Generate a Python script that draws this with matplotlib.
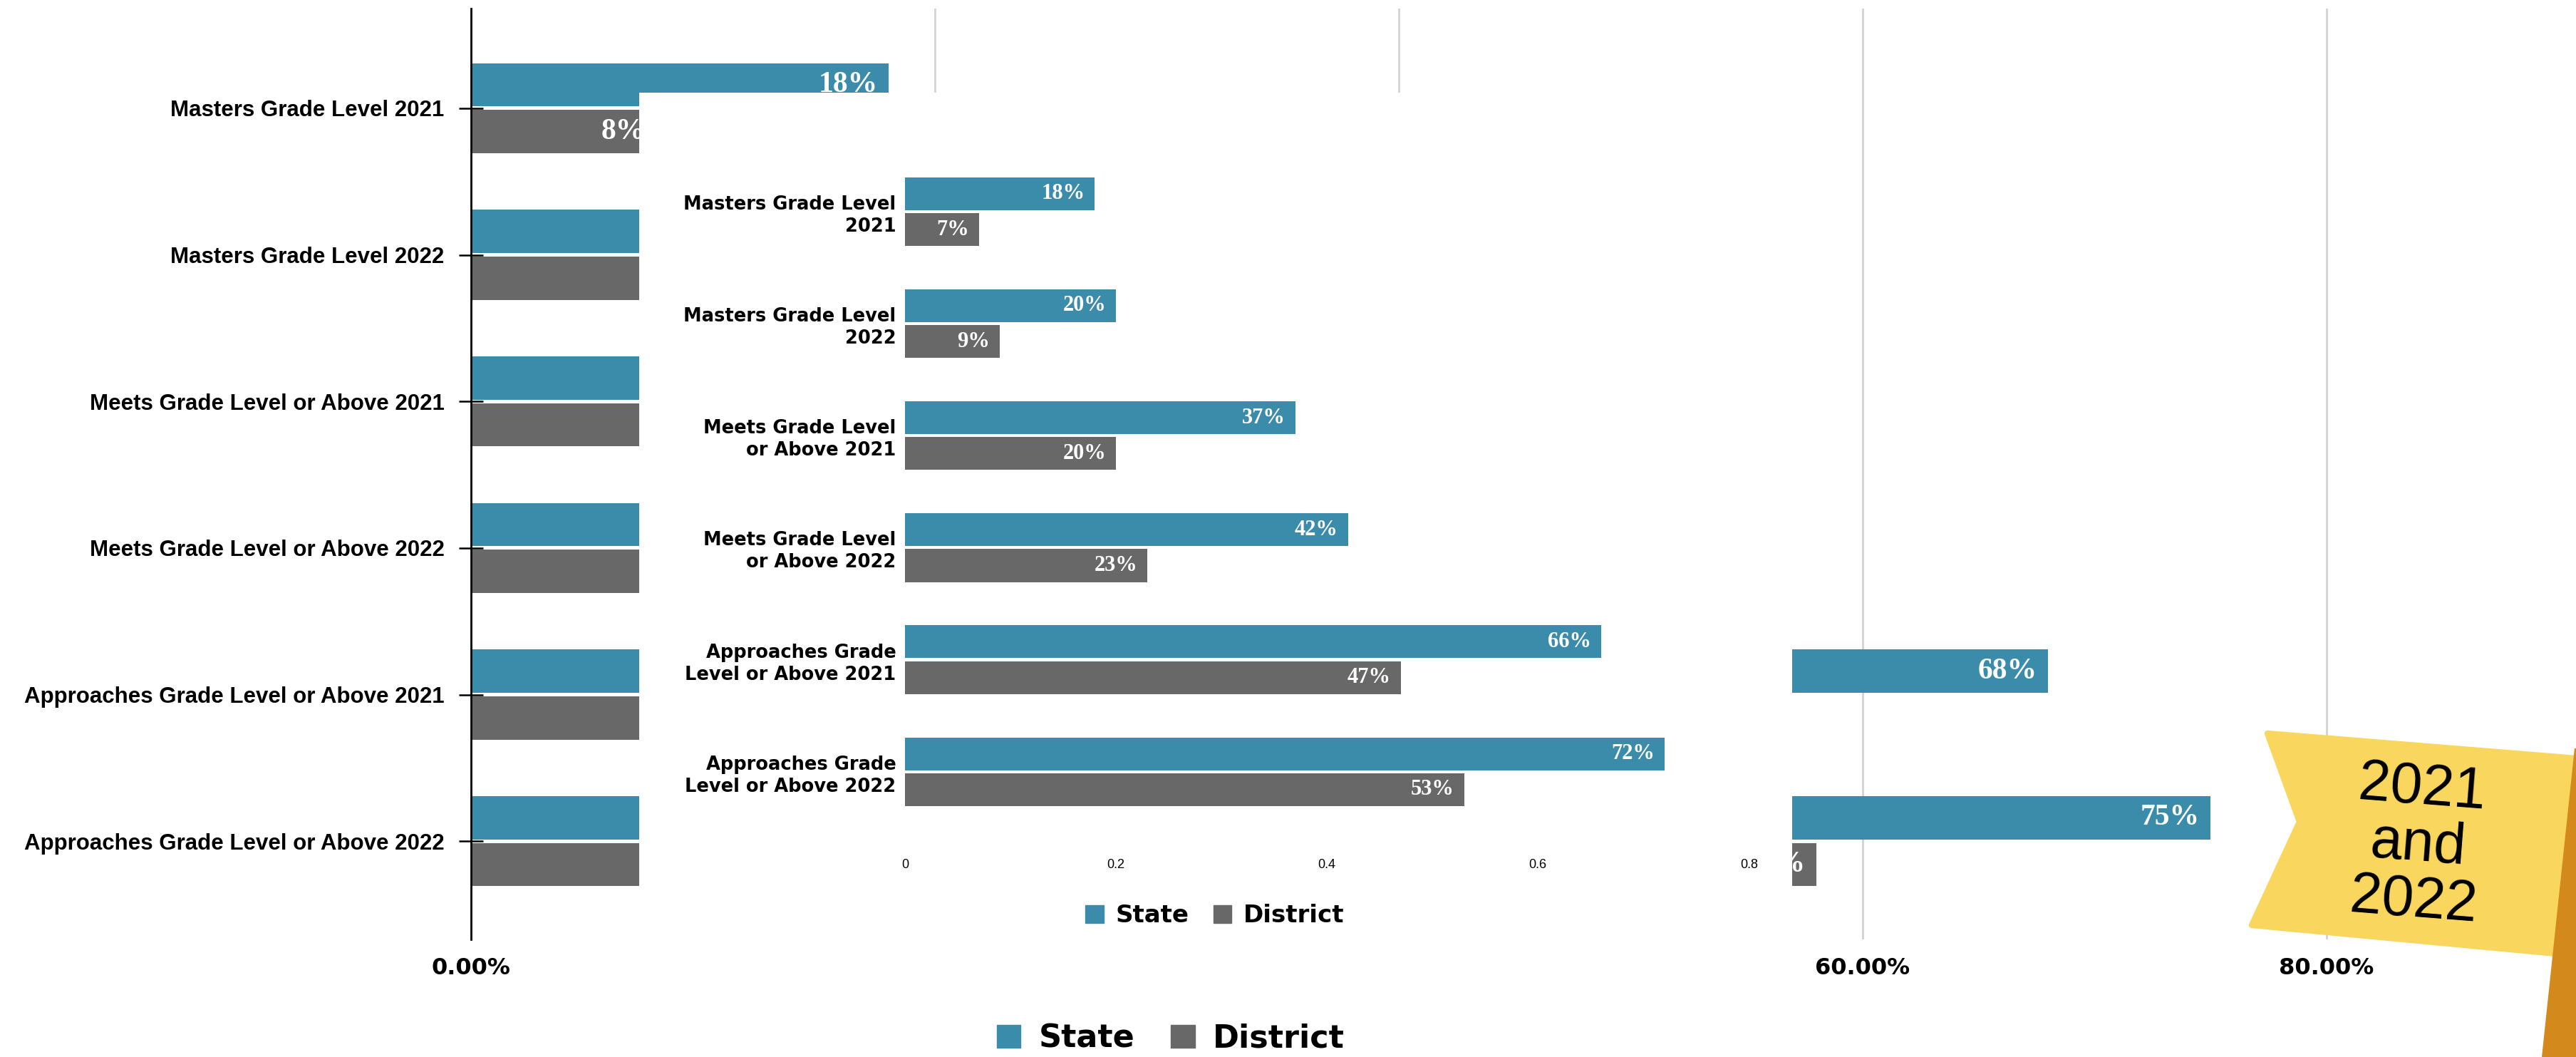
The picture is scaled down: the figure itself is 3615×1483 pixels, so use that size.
import matplotlib
matplotlib.use("Agg")
import numpy as np
import matplotlib.pyplot as plt
from matplotlib.patches import Patch, Polygon
from matplotlib.ticker import FuncFormatter

W, H = 3615, 1483

categories = ["Masters Grade Level 2021", "Masters Grade Level 2022",
              "Meets Grade Level or Above 2021", "Meets Grade Level or Above 2022",
              "Approaches Grade Level or Above 2021", "Approaches Grade Level or Above 2022"]
inset_labels = ["Masters Grade Level\n2021", "Masters Grade Level\n2022",
                "Meets Grade Level\nor Above 2021", "Meets Grade Level\nor Above 2022",
                "Approaches Grade\nLevel or Above 2021", "Approaches Grade\nLevel or Above 2022"]

# chart in the back (mostly covered by the pasted one)
back_state = [0.18, 0.20, 0.38, 0.43, 0.68, 0.75]
back_district = [0.08, 0.11, 0.22, 0.25, 0.50, 0.58]

# chart pasted on top
front_state = [0.18, 0.20, 0.37, 0.42, 0.66, 0.72]
front_district = [0.07, 0.09, 0.20, 0.23, 0.47, 0.53]

back_ticks = [0, 0.2, 0.4, 0.6, 0.8]
front_ticks = [0, 0.2, 0.4, 0.6, 0.8]
front_ticklabels = ["0", "0.2", "0.4", "0.6", "0.8"]
series = ["State", "District"]

BLUE = "#3b8bab"
GREY = "#686868"
ARIAL = ["Liberation Sans", "DejaVu Sans"]
SERIF = ["Liberation Serif", "DejaVu Serif"]

fig = plt.figure(figsize=(W / 100, H / 100), dpi=100)


def px_axes(l, t, r, b, **kw):
    return fig.add_axes([l / W, 1 - b / H, (r - l) / W, (b - t) / H], **kw)


def bars(ax, state, district, height, fsize, pad):
    y = np.arange(len(state))
    ax.barh(y - 0.16, state, height=height, color=BLUE, zorder=2)
    ax.barh(y + 0.16, district, height=height, color=GREY, zorder=2)
    for vals, off in ((state, -0.16), (district, 0.16)):
        for i, v in enumerate(vals):
            ax.annotate(f"{v * 100:.0f}%", xy=(v, i + off), xytext=(-pad, 0),
                        textcoords="offset points", ha="right", va="center",
                        color="white", fontsize=fsize, family=SERIF,
                        weight="bold", zorder=3)


# ---- back chart
ax = px_axes(661, 12, W, 1318, zorder=1)
bars(ax, back_state, back_district, 0.295, 30, 11)
ax.set_xlim(0, (W - 661) / 3255)
ax.set_ylim(5.67, -0.68)
ax.set_yticks(np.arange(6), categories)
ax.set_xticks(back_ticks)
ax.xaxis.set_major_formatter(FuncFormatter(lambda x, p: f"{x * 100:.2f}%"))
for s in ["top", "right", "bottom"]:
    ax.spines[s].set_visible(False)
ax.spines["left"].set_linewidth(2)
ax.xaxis.grid(True, color="#d3d3d3", lw=2)
ax.set_axisbelow(True)
ax.tick_params(axis="y", direction="inout", length=24, width=1.8, pad=15)
ax.tick_params(axis="x", length=0, pad=18)
for t in ax.get_yticklabels():
    t.set_fontfamily(ARIAL)
    t.set_fontweight("bold")
    t.set_fontsize(22.5)
for t in ax.get_xticklabels():
    t.set_fontweight("bold")
    t.set_fontsize(23)

fig.legend(handles=[Patch(color=BLUE, label=series[0]), Patch(color=GREY, label=series[1])],
           loc="center", bbox_to_anchor=(1643 / W, 1 - 1457 / H), ncol=2, frameon=False,
           prop={"weight": "bold", "size": 32}, handlelength=0.75, handleheight=0.75,
           handletextpad=0.57, columnspacing=1.15)

# ---- pasted chart
bg = px_axes(897, 130, 2515, 1367, zorder=2)
bg.set_facecolor("white")
bg.set_xticks([])
bg.set_yticks([])
for s in bg.spines.values():
    s.set_visible(False)

ai = px_axes(1270, 190, 2515, 1177, zorder=3)
ai.patch.set_alpha(0)
bars(ai, front_state, front_district, 0.293, 22, 10)
ai.set_xlim(0, 0.841)
ai.set_ylim(5.6, -0.68)
ai.set_yticks(np.arange(6), inset_labels)
ai.set_xticks(front_ticks, front_ticklabels)
for s in ai.spines.values():
    s.set_visible(False)
ai.tick_params(axis="y", length=0, pad=9)
ai.tick_params(axis="x", length=0, pad=20)
for t in ai.get_yticklabels():
    t.set_fontweight("bold")
    t.set_fontsize(18.5)
    t.set_linespacing(1.25)
for t in ai.get_xticklabels():
    t.set_fontfamily(ARIAL)
    t.set_fontsize(13)
ai.legend(handles=[Patch(color=BLUE, label=series[0]), Patch(color=GREY, label=series[1])],
          loc="center", bbox_to_anchor=(1705 / W, 1 - 1285 / H), bbox_transform=fig.transFigure,
          ncol=2, frameon=False, prop={"weight": "bold", "size": 24.5},
          handlelength=0.75, handleheight=0.75, handletextpad=0.5, columnspacing=1.0)

# ---- flag in the corner
ov = fig.add_axes([0, 0, 1, 1], zorder=5)
ov.set_xlim(0, W)
ov.set_ylim(H, 0)
ov.axis("off")
ov.patch.set_alpha(0)
ov.add_patch(Polygon([(3182, 1029), (3640, 1066), (3640, 1343), (3160, 1298), (3227, 1153)],
                     closed=True, facecolor="#f9d65e", edgecolor="#f9d65e", lw=6,
                     joinstyle="round"))
ov.add_patch(Polygon([(3613, 1050), (3665, 1050), (3617, 1483), (3567, 1483)],
                     closed=True, facecolor="#d4891c", edgecolor="none"))
ov.text(3393, 1186, "2021\nand\n2022", rotation=-4.5, rotation_mode="anchor",
        ha="center", va="center", multialignment="center", fontsize=58,
        family=ARIAL, linespacing=1.05)

fig.savefig("out.png", dpi=100, facecolor="white")
